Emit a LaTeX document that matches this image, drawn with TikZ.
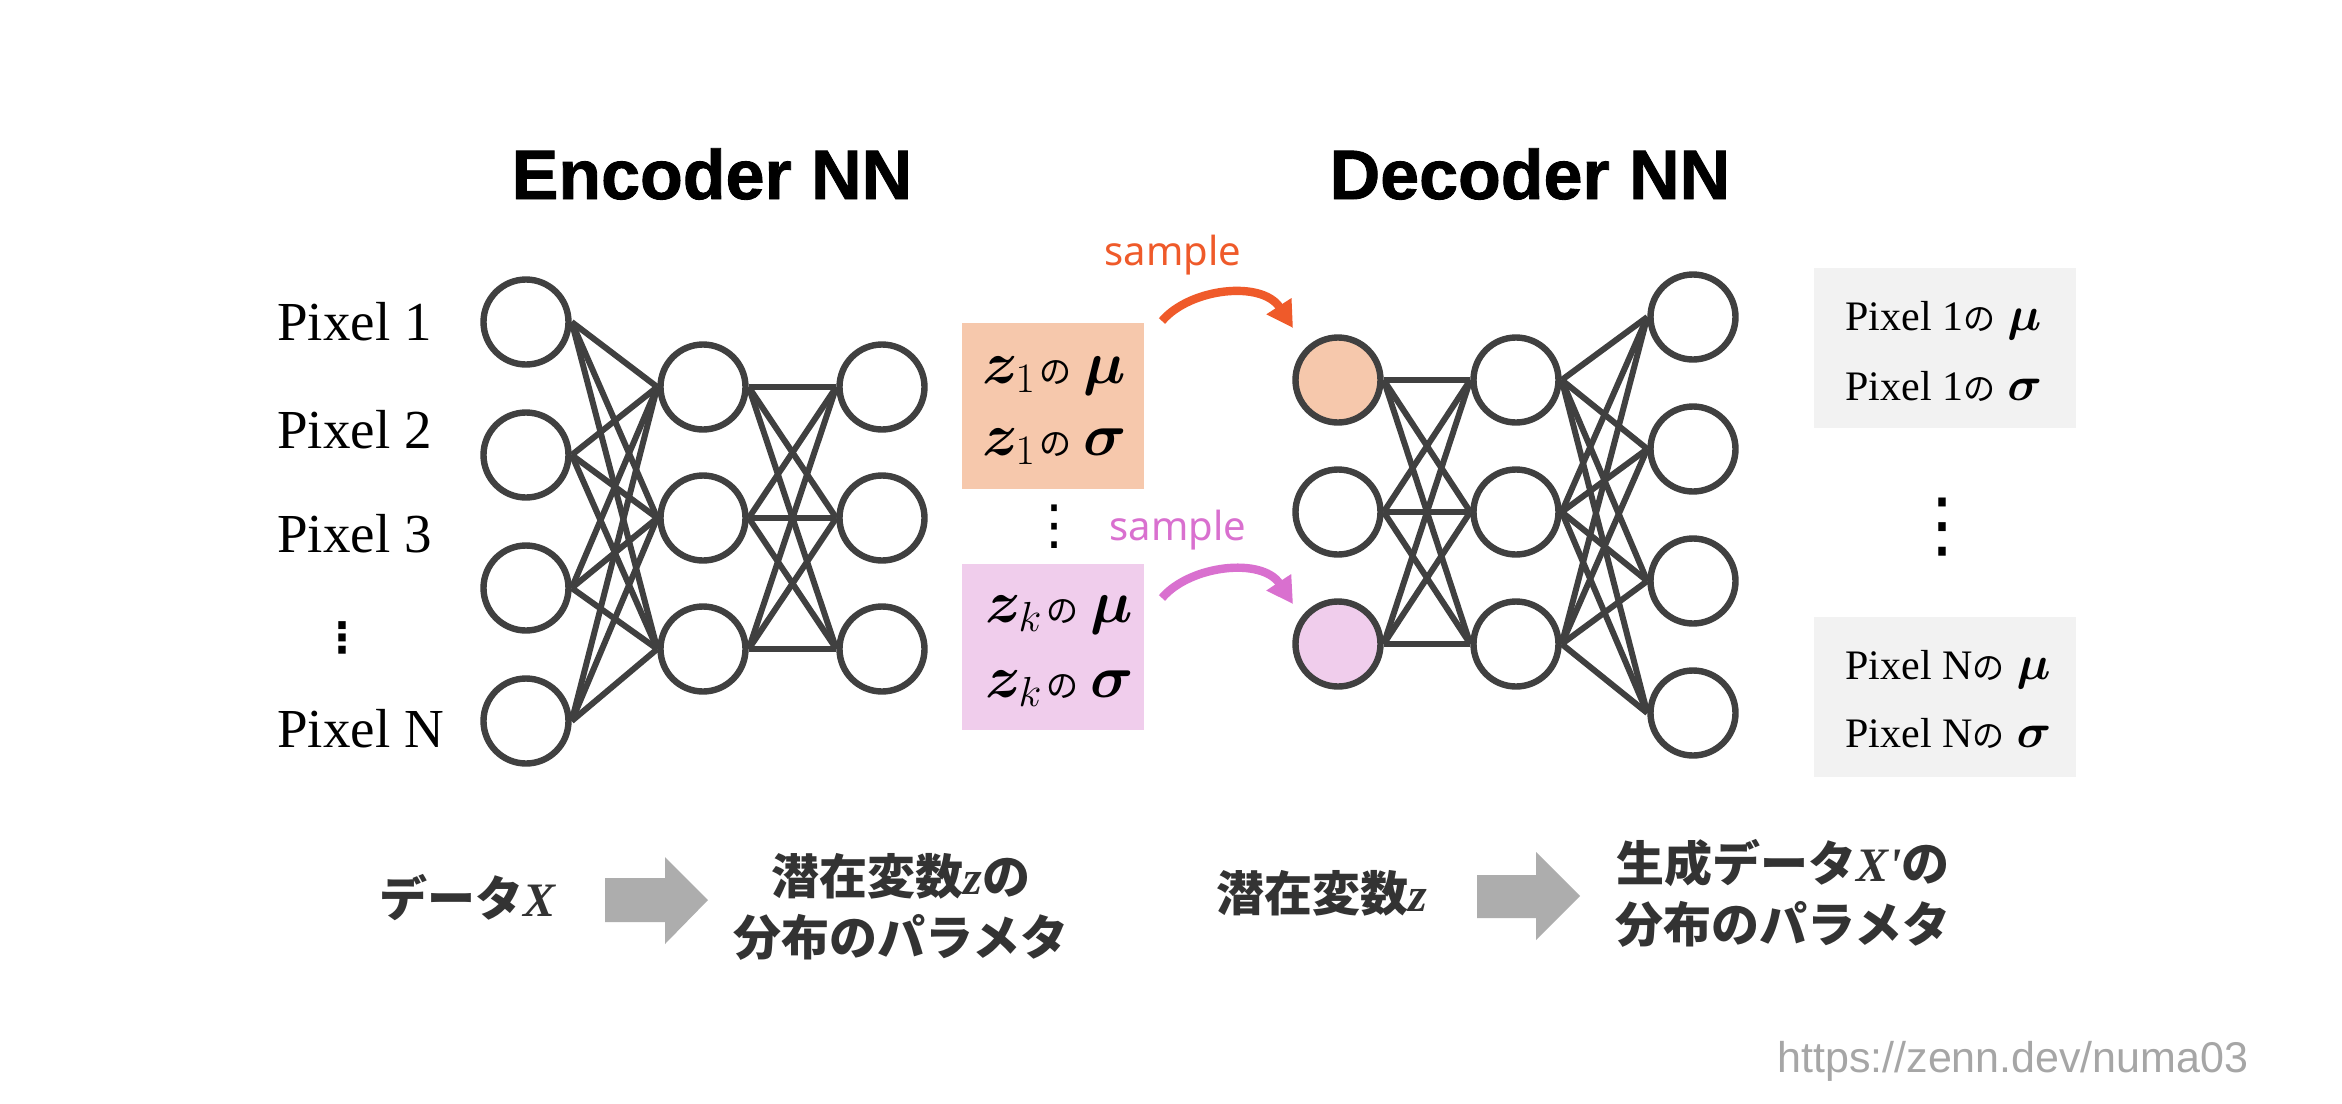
\documentclass[tikz,border=0pt]{standalone}
\usepackage{fix-cm}
\usepackage{fontspec}
\setmainfont{Liberation Serif}
\newfontfamily\cjk{Noto Sans CJK JP}
\newfontfamily\hsans{Liberation Sans}
\newfontfamily\titlefont[BoldFeatures={FakeBold=1.2}]{Liberation Sans}
\newfontfamily\nsans{Noto Sans}
\newfontfamily\dvs{DejaVu Sans}
\usepackage{bm}
\usetikzlibrary{arrows.meta}
\definecolor{ink}{HTML}{404040}
\definecolor{zorange}{HTML}{F6C8AC}
\definecolor{zpink}{HTML}{F0CDEC}
\definecolor{pgray}{HTML}{F2F2F2}
\definecolor{sorange}{HTML}{EF5A2A}
\definecolor{spink}{HTML}{D970CF}
\definecolor{agray}{HTML}{ADADAD}
\definecolor{lbl}{HTML}{333333}
\definecolor{wmgray}{HTML}{A6A6A6}
\newcommand{\bvar}[1]{{\rmfamily\bfseries\itshape #1}}
\begin{document}
\begin{tikzpicture}[x=0.5pt,y=-0.5pt,
  neuron/.style={circle, draw=ink, line width=3.2pt, minimum size=42.5pt, inner sep=0pt, fill=white},
  link/.style={draw=ink, line width=3pt},
  pixlabel/.style={font=\fontsize{27.5}{33}\selectfont, inner sep=0pt, anchor=base west},
  ztext/.style={font=\fontsize{30}{34}\selectfont, inner sep=0pt, anchor=base west},
  ptext/.style={font=\fontsize{21}{25}\selectfont, inner sep=0pt, anchor=base west},
  title/.style={font=\titlefont\bfseries\fontsize{35}{40}\selectfont, inner sep=0pt, anchor=base},
  samplelbl/.style={font=\nsans\fontsize{20}{24}\selectfont, inner sep=0pt},
  blabel/.style={font=\cjk\bfseries\fontsize{24}{30.5}\selectfont, text=lbl, inner sep=0pt, align=center},
  samplearrow/.style={line width=4.2pt, -{Triangle[length=13pt,width=14pt]}},
  blockarrow/.style={fill=agray, draw=none}
]
\useasboundingbox (0,0) rectangle (2342,1104);
\fill[white] (0,0) rectangle (2342,1104);

% titles
\node[title] (enctitle) at (712,199) {Encoder NN};
\node[title] (dectitle) at (1530,199) {Decoder NN};

% pixel labels
\node[pixlabel] (px1) at (277,340) {Pixel 1};
\node[pixlabel] (px2) at (277,448) {Pixel 2};
\node[pixlabel] (px3) at (277,552) {Pixel 3};
\node[font=\dvs\bfseries\fontsize{21}{26}\selectfont, inner sep=0pt] (pxdots) at (342,638) {⋮};
\node[pixlabel] (pxN) at (277,747) {Pixel N};

% latent boxes
\node[rectangle, fill=zorange, minimum width=91pt, minimum height=83pt, inner sep=0pt] (zbox1) at (1053,405.5) {};
\node[rectangle, fill=zpink, minimum width=91pt, minimum height=83pt, inner sep=0pt] (zboxk) at (1053,647) {};
\node[ztext] (z1mu) at (982,383) {$\bm{z}_1$\hspace{2pt}{\cjk\fontsize{16}{20}\selectfont の}\hspace{6pt}$\bm{\mu}$};
\node[ztext] (z1sig) at (982,455) {$\bm{z}_1$\hspace{2pt}{\cjk\fontsize{16}{20}\selectfont の}\hspace{6pt}$\bm{\sigma}$};
\node[ztext] (zkmu) at (985,622) {$\bm{z}_k$\hspace{2pt}{\cjk\fontsize{16}{20}\selectfont の}\hspace{6pt}$\bm{\mu}$};
\node[ztext] (zksig) at (985,697) {$\bm{z}_k$\hspace{2pt}{\cjk\fontsize{16}{20}\selectfont の}\hspace{6pt}$\bm{\sigma}$};
\node[font=\dvs\fontsize{27}{30}\selectfont, inner sep=0pt] (zdots) at (1054,527) {⋮};

% output boxes
\node[rectangle, fill=pgray, minimum width=131pt, minimum height=80pt, inner sep=0pt] (obox1) at (1945,348) {};
\node[rectangle, fill=pgray, minimum width=131pt, minimum height=80pt, inner sep=0pt] (oboxN) at (1945,697) {};
\node[ptext] (o1mu) at (1845,330) {Pixel 1{\cjk\fontsize{16}{18}\selectfont の}\hspace{6pt}{\fontsize{24}{26}\selectfont$\bm{\mu}$}};
\node[ptext] (o1sig) at (1845,400) {Pixel 1{\cjk\fontsize{16}{18}\selectfont の}\hspace{6pt}{\fontsize{24}{26}\selectfont$\bm{\sigma}$}};
\node[ptext] (oNmu) at (1845,679) {Pixel N{\cjk\fontsize{16}{18}\selectfont の}\hspace{6pt}{\fontsize{24}{26}\selectfont$\bm{\mu}$}};
\node[ptext] (oNsig) at (1845,747) {Pixel N{\cjk\fontsize{16}{18}\selectfont の}\hspace{6pt}{\fontsize{24}{26}\selectfont$\bm{\sigma}$}};
\node[font=\dvs\fontsize{36}{40}\selectfont, inner sep=0pt] (odots) at (1942,527) {⋮};

% encoder neurons
\foreach \y [count=\i] in {322,455,588,721} \node[neuron] (ea\i) at (526,\y) {};
\foreach \y [count=\i] in {387,518,649} \node[neuron] (eb\i) at (703,\y) {};
\foreach \y [count=\i] in {387,518,649} \node[neuron] (ec\i) at (882,\y) {};
% decoder neurons
\node[neuron, fill=zorange] (da1) at (1338,380) {};
\node[neuron] (da2) at (1338,512) {};
\node[neuron, fill=zpink] (da3) at (1338,644) {};
\foreach \y [count=\i] in {380,512,644} \node[neuron] (db\i) at (1516,\y) {};
\foreach \y [count=\i] in {317,449,581,713} \node[neuron] (dc\i) at (1693,\y) {};

% links
\foreach \i in {1,...,4} \foreach \j in {1,2,3} \draw[link] (ea\i.east) -- (eb\j.west);
\foreach \i in {1,2,3} \foreach \j in {1,2,3} \draw[link] (eb\i.east) -- (ec\j.west);
\foreach \i in {1,2,3} \foreach \j in {1,2,3} \draw[link] (da\i.east) -- (db\j.west);
\foreach \i in {1,2,3} \foreach \j in {1,...,4} \draw[link] (db\i.east) -- (dc\j.west);

% sample arrows
\node[samplelbl, text=sorange] (sample1) at (1173,255) {sample};
\node[samplelbl, text=spink] (samplek) at (1178,530) {sample};
\coordinate (s1a) at (1162,321);
\coordinate (s1b) at (1293,328);
\coordinate (ska) at (1162,598);
\coordinate (skb) at (1293,604);
\draw[samplearrow, sorange] (s1a) .. controls (1190,288) and (1262,280) .. (s1b);
\draw[samplearrow, spink] (ska) .. controls (1190,565) and (1262,557) .. (skb);

% bottom labels
\node[blabel] (dataX) at (468,898) {データ\bvar{X}};
\fill[blockarrow] (605,878) -- (665,878) -- (665,857) -- (708,900) -- (665,944) -- (665,922) -- (605,922) -- cycle;
\node[blabel] (latparam) at (901,907) {潜在変数\bvar{z}の\\分布のパラメタ};
\node[blabel] (latz) at (1322,893) {潜在変数\bvar{z}};
\fill[blockarrow] (1477,875) -- (1536,875) -- (1536,852) -- (1580,896) -- (1536,940) -- (1536,918) -- (1477,918) -- cycle;
\node[blabel] (genparam) at (1783,893) {生成データ\bvar{X\textquotesingle}の\\分布のパラメタ};

% watermark
\node[font=\hsans\fontsize{21.5}{25}\selectfont, text=wmgray, inner sep=0pt, anchor=base west] (wm) at (1777,1072) {https://zenn.dev/numa03};
\end{tikzpicture}
\end{document}
